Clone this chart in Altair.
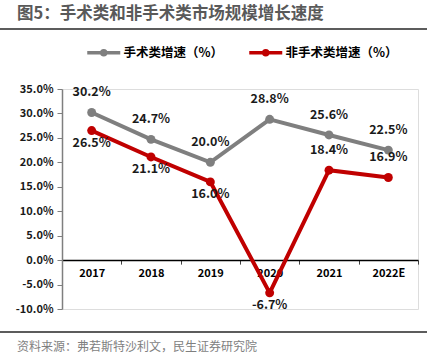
import altair as alt
import pandas as pd

years = ["2017", "2018", "2019", "2020", "2021", "2022E"]
surgical = [30.2, 24.7, 20.0, 28.8, 25.6, 22.5]
nonsurgical = [26.5, 21.1, 16.0, -6.7, 18.4, 16.9]
series_names = ["手术类增速（%）", "非手术类增速（%）"]
colors = ["#7f7f7f", "#c00000"]
y_ticks = [-10, -5, 0, 5, 10, 15, 20, 25, 30, 35]
title_text = "图5：手术类和非手术类市场规模增长速度"
source_text = "资料来源：弗若斯特沙利文，民生证券研究院"

FONT = "Noto Sans CJK SC"

rows = []
for s, vals in zip(series_names, [surgical, nonsurgical]):
    for y, v in zip(years, vals):
        rows.append({"year": y, "series": s, "v": v})
df = pd.DataFrame(rows)

W, H = 356, 220
x_enc = alt.X("year:N", sort=years,
              scale=alt.Scale(type="band", paddingInner=0, paddingOuter=0),
              axis=alt.Axis(title=None, tickBand="extent", offset=-H * 10 / 45,
                            domainColor="#000000", domainWidth=1.5,
                            tickColor="#404040", tickSize=4, labelAngle=0,
                            labelFont=FONT, labelFontWeight="bold", labelFontSize=11,
                            labelColor="#000000", labelPadding=3))
y_enc = alt.Y("v:Q", scale=alt.Scale(domain=[-10, 35], nice=False, zero=False),
              axis=alt.Axis(title=None, values=y_ticks, grid=False,
                            labelExpr="(datum.value < 0 ? '-' : '') + format(abs(datum.value), '.1f') + '%'",
                            domainColor="#7f7f7f", domainWidth=1.5,
                            tickColor="#7f7f7f", tickSize=5,
                            labelFont=FONT, labelFontWeight="bold", labelFontSize=11,
                            labelColor="#1a1a1a", labelPadding=4))
color_scale = alt.Scale(domain=series_names, range=colors)

base = alt.Chart(df).transform_calculate(
    lab="(datum.v < 0 ? '-' : '') + format(abs(datum.v), '.1f') + '%'")

legend = alt.Legend(title=None, orient="none", legendX=23.25, legendY=-55,
                    direction="horizontal",
                    symbolType="M-1,0H1M-0.12,0a0.12,0.12 0 1,0 0.24,0a0.12,0.12 0 1,0 -0.24,0",
                    symbolSize=1089, symbolStrokeWidth=3.5,
                    labelFont=FONT, labelFontWeight="bold", labelFontSize=12.5,
                    labelColor="#000000", labelOffset=1.25, columnPadding=19)

lines = base.mark_line(strokeWidth=4).encode(
    x=x_enc, y=y_enc,
    color=alt.Color("series:N", scale=color_scale, legend=legend, sort=series_names),
)
points = base.mark_point(filled=True, size=80, opacity=1).encode(
    x=x_enc, y=y_enc,
    color=alt.Color("series:N", scale=color_scale, legend=None),
)
txt_style = dict(font=FONT, fontWeight="bold", fontSize=12.5, color="#1a1a1a")
gray_labels = base.transform_filter(alt.datum.series == series_names[0]).mark_text(
    dy=-20, **txt_style).encode(x=x_enc, y=y_enc, text="lab:N")
red_below = base.transform_filter(
    (alt.datum.series == series_names[1]) & (alt.datum.year != "2021") & (alt.datum.year != "2022E")
).mark_text(dy=12, **txt_style).encode(x=x_enc, y=y_enc, text="lab:N")
red_above = base.transform_filter(
    (alt.datum.series == series_names[1]) & ((alt.datum.year == "2021") | (alt.datum.year == "2022E"))
).mark_text(dy=-20, **txt_style).encode(x=x_enc, y=y_enc, text="lab:N")

deco = pd.DataFrame({"t": [title_text]})
title_mark = alt.Chart(deco).mark_text(
    align="left", baseline="middle", font=FONT, fontWeight="bold", fontSize=16.5, color="#595959"
).encode(x=alt.value(-45), y=alt.value(-75), text="t:N")
src = pd.DataFrame({"t": [source_text]})
source_mark = alt.Chart(src).mark_text(
    align="left", baseline="middle", font=FONT, fontSize=12, color="#7f7f7f"
).encode(x=alt.value(-45), y=alt.value(258), text="t:N")
top_rule = alt.Chart(deco).mark_rule(color="#262626", strokeWidth=1.5).encode(
    x=alt.value(-62), x2=alt.value(365), y=alt.value(-60))
bottom_rule = alt.Chart(deco).mark_rule(color="#262626", strokeWidth=1.5).encode(
    x=alt.value(-62), x2=alt.value(365), y=alt.value(243))

chart = alt.layer(
    lines, points, gray_labels, red_below, red_above,
    title_mark, source_mark, top_rule, bottom_rule
).properties(
    width=W, height=H, autosize="none",
    padding={"left": 62, "top": 89, "right": 18, "bottom": 45},
).configure_view(stroke=None).configure(background="#ffffff")

chart.save("out.html", embed_options={"renderer": "svg", "actions": False})
